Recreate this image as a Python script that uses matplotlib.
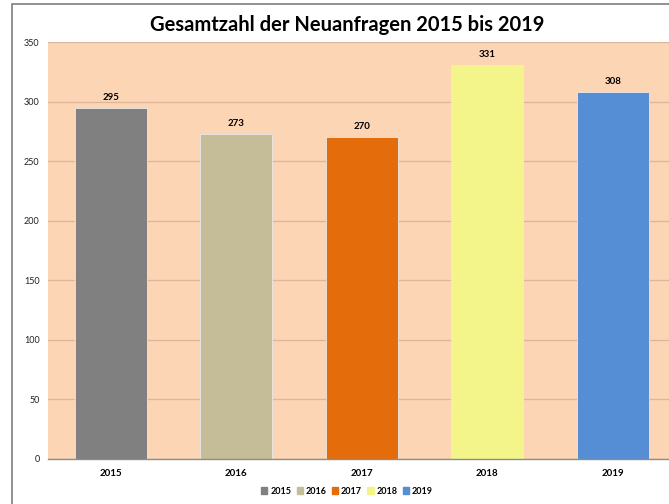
import matplotlib
matplotlib.use("Agg")
import matplotlib.pyplot as plt
from matplotlib.patches import Rectangle

years = ["2015", "2016", "2017", "2018", "2019"]
values = [295, 273, 270, 331, 308]
colors = ["#808080", "#C4BD97", "#E46C0A", "#F3F58A", "#558ED5"]
yticks = [0, 50, 100, 150, 200, 250, 300, 350]

plt.rcParams['font.family'] = ['Lato', 'DejaVu Sans']

fig = plt.figure(figsize=(6.69, 5.04), dpi=100)
fig.patches.append(Rectangle((12/669, -0.1), 2.0, 1 - 4/504 + 0.1, transform=fig.transFigure,
                             fill=False, edgecolor="#7f7f7f", linewidth=1.2, zorder=0))
ax = fig.add_axes([48/669, 1 - 459/504, 627.5/669, (459 - 42)/504])
ax.set_facecolor("#FCD5B5")
x = list(range(len(years)))
bars = ax.bar(x, values, width=0.57, color=colors, edgecolor="#e8e8e8", linewidth=0.6,
              zorder=3, label=None)
ax.set_xlim(-0.5, len(years) - 0.5)
ax.set_ylim(0, 350)
ax.set_yticks(yticks)
ax.set_yticklabels([str(t) for t in yticks], fontsize=6.5, color="#222222")
ax.set_xticks(x)
ax.set_xticklabels(years, fontsize=7, fontweight="bold")
ax.tick_params(axis="both", length=0, pad=6)
ax.tick_params(axis="x", pad=7)
ax.grid(axis="y", color="#DDB59A", linewidth=0.9, zorder=1)
for s in ["top", "right", "left"]:
    ax.spines[s].set_visible(False)
ax.spines["bottom"].set_color("#8c8c8c")
ax.spines["bottom"].set_linewidth(1.0)
ax.spines["bottom"].set_zorder(4)

for xi, v in zip(x, values):
    ax.text(xi, v + 5, str(v), ha="center", va="bottom", fontsize=7, fontweight="bold")

fig.text(347/669, 1 - 25/504, "Gesamtzahl der Neuanfragen 2015 bis 2019", ha="center",
         va="center", fontsize=14.5, fontweight="bold")

handles = [Rectangle((0, 0), 1, 1, color=c) for c in colors]
fig.legend(handles, years, loc="center", bbox_to_anchor=(347/669, 1 - 491/504), ncol=5,
           frameon=False, prop={"size": 6.5, "weight": "bold"}, handlelength=0.7,
           handleheight=0.7, handletextpad=0.3, columnspacing=0.6)

fig.savefig("out.png", dpi=100)
